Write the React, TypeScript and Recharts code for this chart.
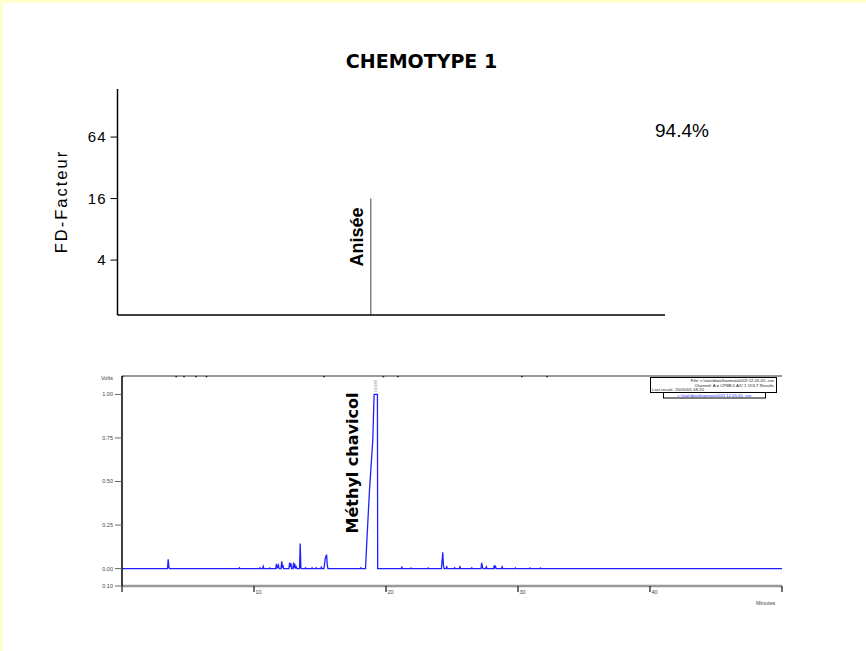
import React from "react";
import {
  ComposedChart,
  Line,
  Scatter,
  XAxis,
  YAxis,
  ReferenceLine,
} from "recharts";

// ---------- Top chart (olfactometry, FD factor) ----------
const fdTicks = [4, 16, 64];
const FD_MIN = 1.16;
const FD_MAX = 189;
const odorNames = ["Anisée"];
const odorTimes = [19.2];
const odorFD = [16];
const similarity = "94.4%";

// ---------- Bottom chart (chromatogram) ----------
const minuteTicks = [0, 10, 20, 30, 40, 50];
const voltTicks = [-0.1, 0, 0.25, 0.5, 0.75, 1.0];
const V_MIN = -0.1;
const V_MAX = 1.106;
// [minutes, volts]
const chromatogram: [number, number][] = [
  [0, 0], [3.45, 0], [3.5, 0.054], [3.55, 0.01], [3.6, 0],
  [8.85, 0], [8.9, 0.005], [8.95, 0],
  [10.4, 0], [10.45, 0.005], [10.5, 0], [10.65, 0], [10.7, 0.013], [10.75, 0],
  [11.15, 0], [11.2, 0.004], [11.25, 0],
  [11.65, 0], [11.7, 0.027], [11.75, 0.005], [11.8, 0.01], [11.85, 0.02], [11.9, 0],
  [12.05, 0], [12.1, 0.042], [12.15, 0.01], [12.2, 0.015], [12.25, 0],
  [12.65, 0], [12.7, 0.035], [12.75, 0.01], [12.8, 0.03], [12.85, 0],
  [12.95, 0], [13.0, 0.035], [13.05, 0.01], [13.1, 0.02], [13.15, 0.005], [13.2, 0.01], [13.25, 0],
  [13.45, 0], [13.5, 0.144], [13.55, 0.005], [13.6, 0],
  [13.85, 0], [13.9, 0.005], [13.95, 0],
  [14.35, 0], [14.4, 0.005], [14.45, 0],
  [14.65, 0], [14.7, 0.005], [14.75, 0],
  [15.05, 0], [15.1, 0.008], [15.15, 0],
  [15.3, 0], [15.4, 0.06], [15.5, 0.08], [15.55, 0.02], [15.6, 0],
  [18.05, 0], [18.1, 0.005], [18.15, 0],
  [18.45, 0], [18.55, 0.16], [18.75, 0.45], [19.0, 0.74], [19.1, 1.0], [19.35, 1.0], [19.37, 0],
  [21.15, 0], [21.2, 0.008], [21.25, 0],
  [21.85, 0], [21.9, 0.004], [21.95, 0],
  [23.15, 0], [23.2, 0.004], [23.25, 0],
  [24.2, 0], [24.3, 0.094], [24.35, 0.02], [24.4, 0],
  [24.55, 0], [24.6, 0.01], [24.65, 0],
  [25.15, 0], [25.2, 0.005], [25.25, 0],
  [25.55, 0], [25.6, 0.01], [25.65, 0],
  [26.45, 0], [26.5, 0.005], [26.55, 0],
  [27.2, 0], [27.25, 0.033], [27.3, 0.01], [27.35, 0],
  [27.55, 0], [27.6, 0.01], [27.65, 0],
  [28.15, 0], [28.2, 0.018], [28.25, 0.005], [28.3, 0.012], [28.35, 0],
  [28.75, 0], [28.8, 0.01], [28.85, 0],
  [29.75, 0], [29.8, 0.004], [29.85, 0],
  [30.85, 0], [30.9, 0.004], [30.95, 0],
  [31.65, 0], [31.7, 0.004], [31.75, 0],
  [50, 0],
];
const markerTimes = [0.05, 4.1, 4.7, 5.6, 6.4, 15.3, 19.8, 20.9, 30.3, 32.2];
const markerLabels = ["0", "5", "RI.6", "RI.4", "RI.2", "RI.4", "RI.6", "RI.4", "RI.5", "RI.4"];
const mainPeakTime = 19.22;
const mainPeakLabel = "19.083";
const mainPeakName = "Méthyl chavicol";

const topLineData = odorTimes.flatMap((t, i) => [
  { t, fd: FD_MIN, name: odorNames[i] },
  { t, fd: odorFD[i], name: odorNames[i] },
]);
const chromData = chromatogram.map(([t, v]) => ({ t, v }));
const markerData = markerTimes.map((t, i) => ({ t, v: V_MAX, label: markerLabels[i] }));
const peakLabelData = [{ t: mainPeakTime, v: V_MAX, label: mainPeakLabel }];

const ARIAL = "'Liberation Sans', Arial, sans-serif";

const OdorLabel = (props: any) => {
  const { x, y, index } = props;
  if (index % 2 !== 1) return null;
  const name = topLineData[index].name;
  return (
    <text
      x={x - 7.5}
      y={y + 9}
      transform={`rotate(-90 ${x - 7.5} ${y + 9})`}
      textAnchor="end"
      fontFamily={ARIAL}
      fontWeight="bold"
      fontSize={18}
      fill="#000"
    >
      {name}
    </text>
  );
};

const MarkerShape = (props: any) => {
  const { cx, cy, payload } = props;
  return (
    <g>
      <circle cx={cx} cy={cy + 0.5} r={0.9} fill="#222" />
      <text
        x={cx + 1}
        y={cy - 4}
        transform={`rotate(-30 ${cx + 1} ${cy - 4})`}
        fontFamily={ARIAL}
        fontSize={4}
        fill="#666"
      >
        {payload.label}
      </text>
    </g>
  );
};

const PeakLabelShape = (props: any) => {
  const { cx, cy, payload } = props;
  return (
    <text
      x={cx + 1.5}
      y={cy + 4}
      transform={`rotate(-90 ${cx + 1.5} ${cy + 4})`}
      textAnchor="end"
      fontFamily={ARIAL}
      fontSize={4}
      fill="#777"
    >
      {payload.label}
    </text>
  );
};

const MinuteTick = (props: any) => {
  const { x, payload } = props;
  const v = payload.value;
  if (v === 0 || v === 50) return null;
  return (
    <text x={x + 1.5} y={594} fontFamily={ARIAL} fontSize={5.5} fill="#444">
      {String(v)}
    </text>
  );
};

export default function App() {
  return (
    <div
      style={{
        position: "absolute",
        left: 0,
        top: 0,
        width: 866,
        height: 651,
        background: "#FFFFCC",
        overflow: "hidden",
      }}
    >
      <div
        style={{
          position: "absolute",
          left: 3,
          top: 3,
          width: 863,
          height: 648,
          background: "#FFFFFF",
        }}
      />
      {/* Top chart */}
      <div style={{ position: "absolute", left: 0, top: 0 }}>
        <ComposedChart
          width={866}
          height={651}
          margin={{ top: 89, right: 201, bottom: 326, left: 0 }}
        >
          <XAxis
            type="number"
            dataKey="t"
            domain={[0, 41.5]}
            height={10}
            tick={false}
            tickLine={false}
            axisLine={{ stroke: "#000", strokeWidth: 1.5 }}
          />
          <YAxis
            type="number"
            scale="log"
            domain={[FD_MIN, FD_MAX]}
            allowDataOverflow
            ticks={fdTicks}
            width={117.5}
            tickSize={7}
            tickMargin={4}
            axisLine={{ stroke: "#000", strokeWidth: 1.5 }}
            tickLine={{ stroke: "#000", strokeWidth: 1 }}
            tick={{ fontFamily: ARIAL, fontSize: 15, fill: "#000", letterSpacing: 1 }}
          />
          <Line
            data={topLineData}
            dataKey="fd"
            type="linear"
            stroke="#666"
            strokeWidth={1.2}
            dot={false}
            isAnimationActive={false}
            label={<OdorLabel />}
          />
        </ComposedChart>
      </div>

      {/* Bottom chart */}
      <div style={{ position: "absolute", left: 0, top: 0 }}>
        <ComposedChart
          width={866}
          height={651}
          margin={{ top: 376, right: 84, bottom: 45, left: 0 }}
        >
          <XAxis
            type="number"
            dataKey="t"
            domain={[0, 50]}
            ticks={minuteTicks}
            allowDataOverflow
            height={20}
            tickSize={6}
            axisLine={{ stroke: "#999", strokeWidth: 2.5 }}
            tickLine={{ stroke: "#111", strokeWidth: 1.2 }}
            tick={<MinuteTick />}
          />
          <YAxis
            type="number"
            domain={[V_MIN, V_MAX]}
            allowDataOverflow
            ticks={voltTicks}
            width={122}
            tickSize={7}
            tickMargin={2}
            axisLine={{ stroke: "#000", strokeWidth: 1.5 }}
            tickLine={{ stroke: "#666", strokeWidth: 1 }}
            tick={{ fontFamily: ARIAL, fontSize: 5.5, fill: "#444" }}
            tickFormatter={(v: number) => Math.abs(v).toFixed(2)}
          />
          <ReferenceLine y={V_MAX} stroke="#999" strokeWidth={2} ifOverflow="extendDomain" />
          <Line
            data={chromData}
            dataKey="v"
            type="linear"
            stroke="#2020ff"
            strokeWidth={1.3}
            dot={false}
            isAnimationActive={false}
          />
          <Scatter data={markerData} dataKey="v" shape={<MarkerShape />} isAnimationActive={false} />
          <Scatter data={peakLabelData} dataKey="v" shape={<PeakLabelShape />} isAnimationActive={false} />
        </ComposedChart>
      </div>

      {/* Text overlay */}
      <svg
        width={866}
        height={651}
        style={{ position: "absolute", left: 0, top: 0, pointerEvents: "none" }}
      >
        <text
          x={421.5}
          y={68}
          textAnchor="middle"
          fontFamily="'DejaVu Sans', sans-serif"
          fontWeight="bold"
          fontSize={19}
          fill="#000"
        >
          CHEMOTYPE 1
        </text>
        <text x={655} y={137} fontFamily={ARIAL} fontSize={19} fill="#000">
          {similarity}
        </text>
        <text
          x={66.5}
          y={201.5}
          transform="rotate(-90 66.5 201.5)"
          textAnchor="middle"
          fontFamily={ARIAL}
          fontSize={16.5}
          letterSpacing={2}
          fill="#000"
        >
          FD-Facteur
        </text>
        <text
          x={358}
          y={463}
          transform="rotate(-90 358 463)"
          textAnchor="middle"
          fontFamily="'DejaVu Sans', sans-serif"
          fontWeight="bold"
          fontSize={16}
          fill="#000"
        >
          {mainPeakName}
        </text>
        <text x={101} y={380} fontFamily={ARIAL} fontSize={5.5} fill="#444">
          Volts
        </text>
        <text x={756} y={605} fontFamily={ARIAL} fontSize={5.5} fill="#444">
          Minutes
        </text>
        {/* Run info box */}
        <rect x={650.5} y={377.5} width={126} height={15} fill="#fff" stroke="#000" strokeWidth={1} />
        <text x={774} y={382} textAnchor="end" fontFamily={ARIAL} fontSize={4.3} fill="#222">
          File: c:\star\data\hanina\a502f 12.05.05 .run
        </text>
        <text x={774} y={386.5} textAnchor="end" fontFamily={ARIAL} fontSize={4.3} fill="#222">
          Channel: A = CP8B.5 A/V 1 VOLT Results
        </text>
        <text x={652} y={391} textAnchor="start" fontFamily={ARIAL} fontSize={4.3} fill="#222">
          Last recalc: 20/05/05 08:20
        </text>
        <rect x={663.5} y={392.5} width={102} height={5.5} fill="#fff" stroke="#000" strokeWidth={1} />
        <text x={714.5} y={397} textAnchor="middle" fontFamily={ARIAL} fontSize={4.3} fill="#2a2aff">
          c:\star\data\hanina\a502f 12.05.05 .run
        </text>
      </svg>
    </div>
  );
}
